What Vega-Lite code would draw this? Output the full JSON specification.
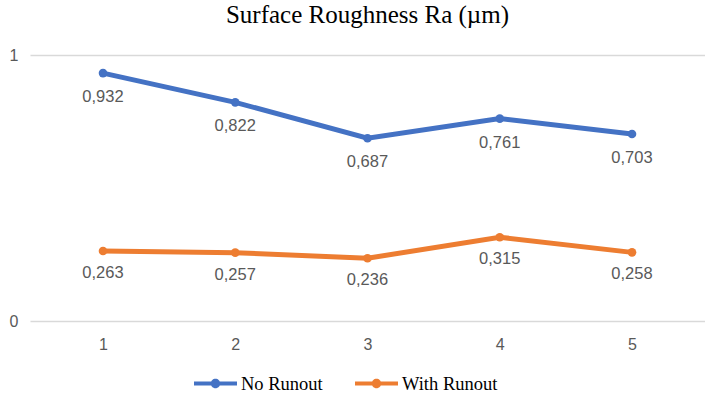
{
  "$schema": "https://vega.github.io/schema/vega-lite/v6.json",
  "width": 675,
  "height": 266,
  "autosize": "none",
  "padding": {"left": 30, "top": 55, "right": 0, "bottom": 74},
  "background": "white",
  "title": {
    "text": "Surface Roughness Ra (µm)",
    "font": "Liberation Serif",
    "fontSize": 25,
    "fontWeight": "normal",
    "color": "#000000",
    "anchor": "middle",
    "offset": 19
  },
  "config": {
    "view": {"stroke": null},
    "locale": {"number": {"decimal": ",", "thousands": ".", "grouping": [3], "currency": ["", ""]}}
  },
  "data": {
    "values": [
      {"x": "1", "series": "No Runout", "value": 0.932},
      {"x": "2", "series": "No Runout", "value": 0.822},
      {"x": "3", "series": "No Runout", "value": 0.687},
      {"x": "4", "series": "No Runout", "value": 0.761},
      {"x": "5", "series": "No Runout", "value": 0.703},
      {"x": "1", "series": "With Runout", "value": 0.263},
      {"x": "2", "series": "With Runout", "value": 0.257},
      {"x": "3", "series": "With Runout", "value": 0.236},
      {"x": "4", "series": "With Runout", "value": 0.315},
      {"x": "5", "series": "With Runout", "value": 0.258}
    ]
  },
  "encoding": {
    "x": {
      "field": "x",
      "type": "ordinal",
      "scale": {"type": "point", "padding": 0.552},
      "axis": {
        "title": null,
        "labelAngle": 0,
        "domain": false,
        "ticks": false,
        "labelPadding": 15,
        "labelFont": "Liberation Sans",
        "labelFontSize": 16,
        "labelColor": "#595959",
        "grid": false
      }
    },
    "y": {
      "field": "value",
      "type": "quantitative",
      "scale": {"domain": [0, 1], "nice": false},
      "axis": {
        "title": null,
        "values": [0, 1],
        "format": ".0f",
        "domain": false,
        "ticks": false,
        "labelPadding": 12,
        "labelFont": "Liberation Sans",
        "labelFontSize": 16,
        "labelColor": "#595959",
        "gridColor": "#d9d9d9",
        "gridWidth": 1.5
      }
    },
    "color": {
      "field": "series",
      "type": "nominal",
      "scale": {"domain": ["No Runout", "With Runout"], "range": ["#4472C4", "#ED7D31"]},
      "legend": {
        "title": null,
        "orient": "none",
        "legendX": 164,
        "legendY": 307,
        "direction": "horizontal",
        "symbolType": "M-1,-0.095L1,-0.095L1,0.095L-1,0.095Z M-0.22,0A0.22,0.22 0 1,1 0.22,0A0.22,0.22 0 1,1 -0.22,0Z",
        "symbolSize": 1849,
        "symbolStrokeWidth": 0,
        "symbolOpacity": 1,
        "labelFont": "Liberation Serif",
        "labelFontSize": 18.5,
        "labelColor": "#000000",
        "labelOffset": 4,
        "columnPadding": 32
      }
    }
  },
  "layer": [
    {"mark": {"type": "line", "strokeWidth": 5}},
    {"mark": {"type": "point", "filled": true, "size": 75, "opacity": 1}},
    {
      "transform": [{"filter": "datum.series == 'No Runout'"}],
      "mark": {"type": "text", "dy": 24, "font": "Liberation Sans", "fontSize": 16.5, "color": "#595959", "baseline": "middle"},
      "encoding": {"text": {"field": "value", "type": "quantitative", "format": ".3f"}, "color": {"value": "#595959"}}
    },
    {
      "transform": [{"filter": "datum.series == 'With Runout'"}],
      "mark": {"type": "text", "dy": 22, "font": "Liberation Sans", "fontSize": 16.5, "color": "#595959", "baseline": "middle"},
      "encoding": {"text": {"field": "value", "type": "quantitative", "format": ".3f"}, "color": {"value": "#595959"}}
    }
  ]
}
